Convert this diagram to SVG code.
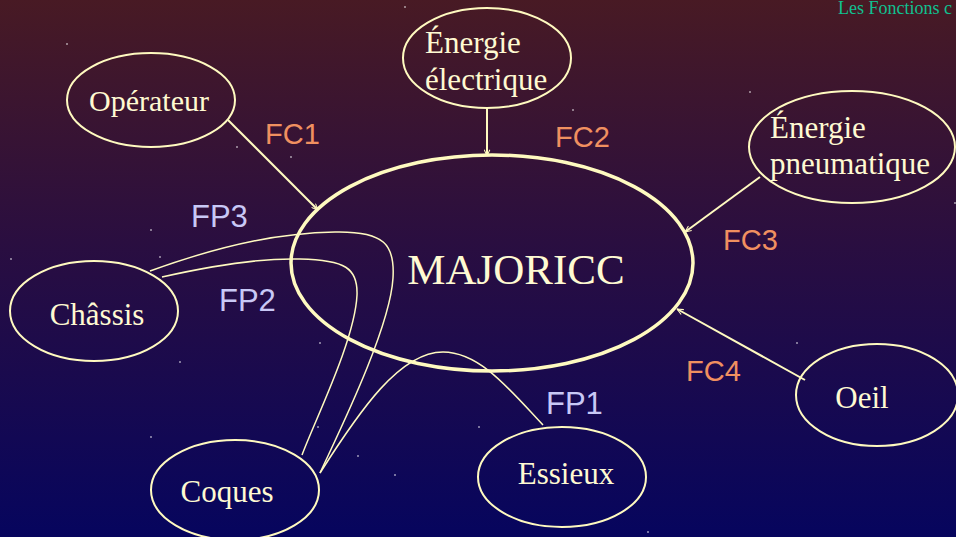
<svg xmlns="http://www.w3.org/2000/svg" width="956" height="537" viewBox="0 0 956 537">
<defs>
<linearGradient id="bg" x1="0" y1="0" x2="0" y2="1">
<stop offset="0" stop-color="#481a24"/>
<stop offset="0.45" stop-color="#2a0e40"/>
<stop offset="1" stop-color="#06055e"/>
</linearGradient>
<marker id="arr" viewBox="0 0 10 10" refX="10" refY="5" markerWidth="7" markerHeight="7" orient="auto" markerUnits="userSpaceOnUse">
<path d="M1,1 L10,5 L1,9" fill="none" stroke="#fffac0" stroke-width="1.5"/>
</marker>
<style>
.node{fill:none;stroke:#fffac0;stroke-width:2}
.main{fill:none;stroke:#fffac0;stroke-width:3.5}
.t{font-family:"Liberation Serif","Times New Roman",serif;fill:#fffad2;font-size:31px}
.big{font-size:43px}
.op{font-size:30px}
.fc{font-family:"Liberation Sans",Arial,sans-serif;fill:#f09060;font-size:29px}
.fp{font-family:"Liberation Sans",Arial,sans-serif;fill:#c8c8f6;font-size:31px}
.c{fill:none;stroke:#fffac0;stroke-width:2}
.fpl{fill:none;stroke:#fffac0;stroke-width:1.5}
.star{fill:#ffffff}
</style>
</defs>
<rect width="956" height="537" fill="url(#bg)"/>
<g id="stars" class="star">
<circle cx="67" cy="44" r="0.8"/><circle cx="405" cy="7" r="0.8"/><circle cx="237" cy="147" r="0.8"/>
<circle cx="291" cy="157" r="0.8"/><circle cx="573" cy="110" r="0.8"/><circle cx="750" cy="92" r="0.8"/>
<circle cx="11" cy="259" r="0.8"/><circle cx="160" cy="257" r="0.8"/><circle cx="151" cy="230" r="0.8"/>
<circle cx="320" cy="343" r="0.8"/><circle cx="180" cy="362" r="0.8"/><circle cx="797" cy="343" r="0.8"/>
<circle cx="479" cy="427" r="0.8"/><circle cx="151" cy="437" r="0.8"/><circle cx="358" cy="456" r="0.8"/>
<circle cx="395" cy="475" r="0.8"/><circle cx="648" cy="532" r="0.8"/><circle cx="955" cy="203" r="0.8"/>
<circle cx="318" cy="427" r="0.8"/>
</g>
<text x="838" y="14" font-family="Liberation Serif,serif" font-size="18" fill="#10c090">Les Fonctions c</text>
<g id="connectors">
<line class="c" x1="228" y1="120" x2="318" y2="210" marker-end="url(#arr)"/>
<line class="c" x1="487" y1="108" x2="487" y2="156" marker-end="url(#arr)"/>
<line class="c" x1="760" y1="177" x2="685" y2="232" marker-end="url(#arr)"/>
<line class="c" x1="805" y1="380" x2="677" y2="309" marker-end="url(#arr)"/>
<path class="fpl" d="M150,271 C 230,242 285,233 335,232 C 385,231 395,245 393,278 C 390,330 335,440 320,473"/>
<path class="fpl" d="M162,277 C 220,264 268,258 300,259 C 345,260 358,268 357,295 C 355,340 315,420 302,455"/>
<path class="fpl" d="M320,473 C 360,410 400,352 443,352 C 480,352 510,390 543,425"/>
</g>
<g id="majoricc"><ellipse class="main" cx="492" cy="263" rx="201" ry="108"/><text class="t big" x="516" y="284" text-anchor="middle">MAJORICC</text></g>
<g id="operateur"><ellipse class="node" cx="151" cy="100" rx="84" ry="47"/><text class="t op" x="149" y="111" text-anchor="middle">Opérateur</text></g>
<g id="energie-electrique"><ellipse class="node" cx="487" cy="58" rx="84" ry="50"/><text class="t" x="425" y="53">Énergie</text><text class="t" x="425" y="90">électrique</text></g>
<g id="energie-pneumatique"><ellipse class="node" cx="852" cy="147" rx="103" ry="56"/><text class="t" x="770" y="138">Énergie</text><text class="t" x="770" y="174">pneumatique</text></g>
<g id="chassis"><ellipse class="node" cx="94" cy="311" rx="84" ry="50"/><text class="t" x="97" y="325" text-anchor="middle">Châssis</text></g>
<g id="coques"><ellipse class="node" cx="235" cy="490" rx="84" ry="50"/><text class="t" x="227" y="502" text-anchor="middle">Coques</text></g>
<g id="essieux"><ellipse class="node" cx="562" cy="477" rx="84" ry="50"/><text class="t" x="566" y="484" text-anchor="middle">Essieux</text></g>
<g id="oeil"><ellipse class="node" cx="877" cy="395" rx="81" ry="51"/><text class="t" x="862" y="408" text-anchor="middle">Oeil</text></g>
<g id="labels">
<text class="fc" x="265" y="144">FC1</text>
<text class="fc" x="555" y="147">FC2</text>
<text class="fc" x="723" y="250">FC3</text>
<text class="fc" x="686" y="381">FC4</text>
<text class="fp" x="191" y="227">FP3</text>
<text class="fp" x="219" y="311">FP2</text>
<text class="fp" x="546" y="414">FP1</text>
</g>
</svg>
